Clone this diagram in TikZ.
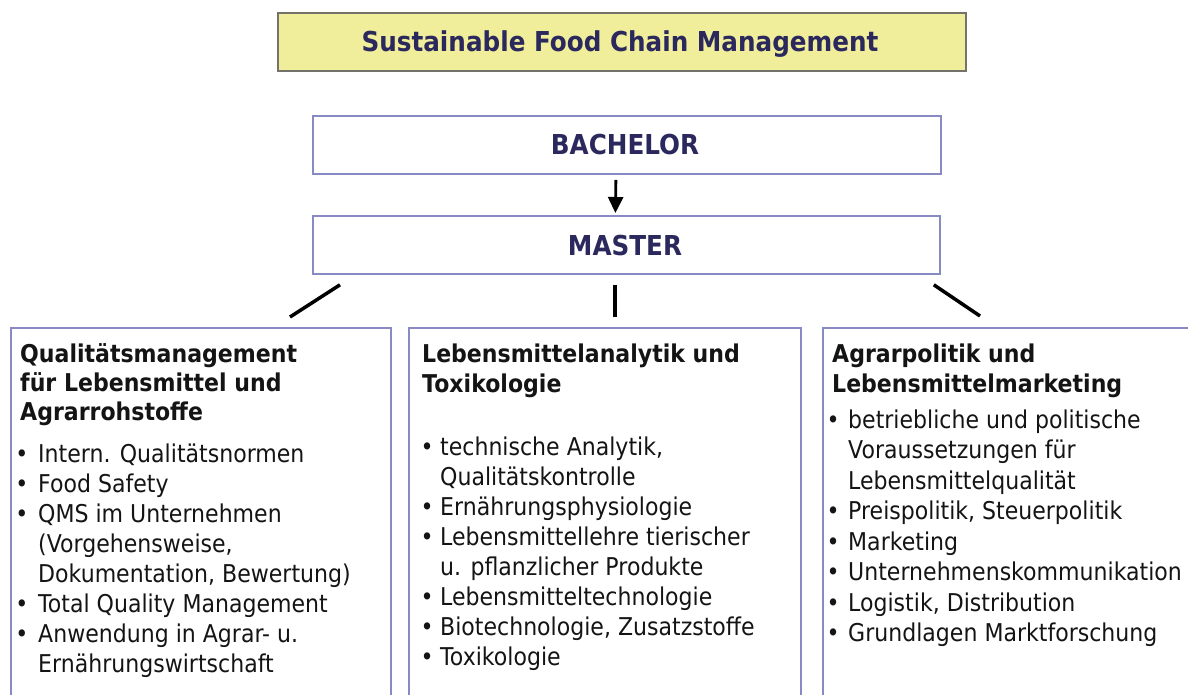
\documentclass[tikz,border=0pt]{standalone}
\usepackage{fontspec}
\setmainfont[FakeStretch=0.9]{DejaVu Sans}
\usetikzlibrary{arrows.meta}
\definecolor{boxline}{RGB}{135,138,195}
\definecolor{titlefill}{RGB}{240,237,155}
\definecolor{titleline}{RGB}{115,115,105}
\definecolor{navy}{RGB}{42,40,92}
\definecolor{ink}{RGB}{20,20,20}
\begin{document}
\begin{tikzpicture}[x=1pt,y=-1pt,
  box/.style={draw=boxline, line width=1.8pt, fill=white, inner sep=0pt, anchor=north west},
  body/.style={font=\fontsize{24.5}{30}\selectfont, text=ink, inner sep=0pt, anchor=base west},
  head/.style={font=\fontsize{24.5}{30}\selectfont\bfseries, text=ink, inner sep=0pt, anchor=base west},
  bul/.style={font=\fontsize{24.5}{30}\selectfont, text=ink, inner sep=0pt, anchor=base},
  toptext/.style={font=\fontsize{27.4}{30}\selectfont\bfseries, text=navy, inner sep=0pt, anchor=base},
  conn/.style={line width=3.5pt, black},
  arr/.style={line width=2.8pt, black, -{Triangle[length=16pt,width=15pt]}}]
\useasboundingbox (0,0) rectangle (1188,695);
\fill[white] (0,0) rectangle (1188,695);

% top boxes
\node[draw=titleline, fill=titlefill, line width=2pt, minimum width=688, minimum height=58, anchor=north west, inner sep=0pt] (title) at (277,12) {};
\node[toptext] (titletxt) at (620,52) {Sustainable Food Chain Management};

\node[box, minimum width=628, minimum height=58] (bach) at (312,115) {};
\node[toptext] (bachtxt) at (625,155) {BACHELOR};

\node[box, minimum width=627, minimum height=58] (master) at (312,215) {};
\node[toptext] (mastertxt) at (625,255) {MASTER};

\draw[arr] ([xshift=-11pt,yshift=-5pt]bach.south) -- ([xshift=-11pt,yshift=2pt]master.north);

% bottom boxes
\node[box, minimum width=380, minimum height=400] (lbox) at (10,327) {};
\node[box, minimum width=392, minimum height=400] (mbox) at (408,327) {};
\node[box, minimum width=400, minimum height=400] (rbox) at (822,327) {};

% connectors from MASTER to the three boxes
\coordinate (ml) at ([xshift=28pt,yshift=-10pt]master.south west);
\coordinate (lt) at ([xshift=280pt,yshift=10pt]lbox.north west);
\coordinate (mm) at ([xshift=303pt,yshift=-10pt]master.south west);
\coordinate (mt) at ([xshift=207pt,yshift=10pt]mbox.north west);
\coordinate (mr) at ([xshift=-7pt,yshift=-10pt]master.south east);
\coordinate (rt) at ([xshift=158pt,yshift=11pt]rbox.north west);
\draw[conn] (ml) -- (lt);
\draw[conn] (mm) -- (mt);
\draw[conn] (mr) -- (rt);

% left box text
\foreach \ty/\tx [count=\i] in {362/Qualitätsmanagement, 391/für Lebensmittel und, 420/Agrarrohstoffe}
  {\node[head] (LH\i) at (20,\ty) {\tx};}
\foreach \ty/\tb/\tx [count=\i] in {
  462/1/Intern. Qualitätsnormen,
  492/1/Food Safety,
  522/1/QMS im Unternehmen,
  552/0/(Vorgehensweise{,},
  582/0/{Dokumentation, Bewertung)},
  612/1/Total Quality Management,
  642/1/Anwendung in Agrar- u.,
  672/0/Ernährungswirtschaft}
  {\node[body] (L\i) at (38,\ty) {\tx};
   \ifnum\tb=1 \node[bul] (LB\i) at (22,\ty) {•};\fi}

% middle box text
\foreach \ty/\tx [count=\i] in {362/Lebensmittelanalytik und, 392/Toxikologie}
  {\node[head] (MH\i) at (422,\ty) {\tx};}
\foreach \ty/\tb/\tx [count=\i] in {
  455/1/{technische Analytik,},
  485/0/Qualitätskontrolle,
  515/1/Ernährungsphysiologie,
  545/1/Lebensmittellehre tierischer,
  575/0/u. pflanzlicher Produkte,
  605/1/Lebensmitteltechnologie,
  635/1/{Biotechnologie, Zusatzstoffe},
  665/1/Toxikologie}
  {\node[body] (M\i) at (440,\ty) {\tx};
   \ifnum\tb=1 \node[bul] (MB\i) at (427,\ty) {•};\fi}

% right box text
\foreach \ty/\tx [count=\i] in {362/Agrarpolitik und, 392/Lebensmittelmarketing}
  {\node[head] (RH\i) at (832,\ty) {\tx};}
\foreach \ty/\tb/\tx [count=\i] in {
  428/1/betriebliche und politische,
  458.5/0/Voraussetzungen für,
  489/0/Lebensmittelqualität,
  519.5/1/{Preispolitik, Steuerpolitik},
  550/1/Marketing,
  580.5/1/Unternehmenskommunikation,
  611/1/{Logistik, Distribution},
  641.5/1/Grundlagen Marktforschung}
  {\node[body] (R\i) at (848,\ty) {\tx};
   \ifnum\tb=1 \node[bul] (RB\i) at (833,\ty) {•};\fi}
\end{tikzpicture}
\end{document}
